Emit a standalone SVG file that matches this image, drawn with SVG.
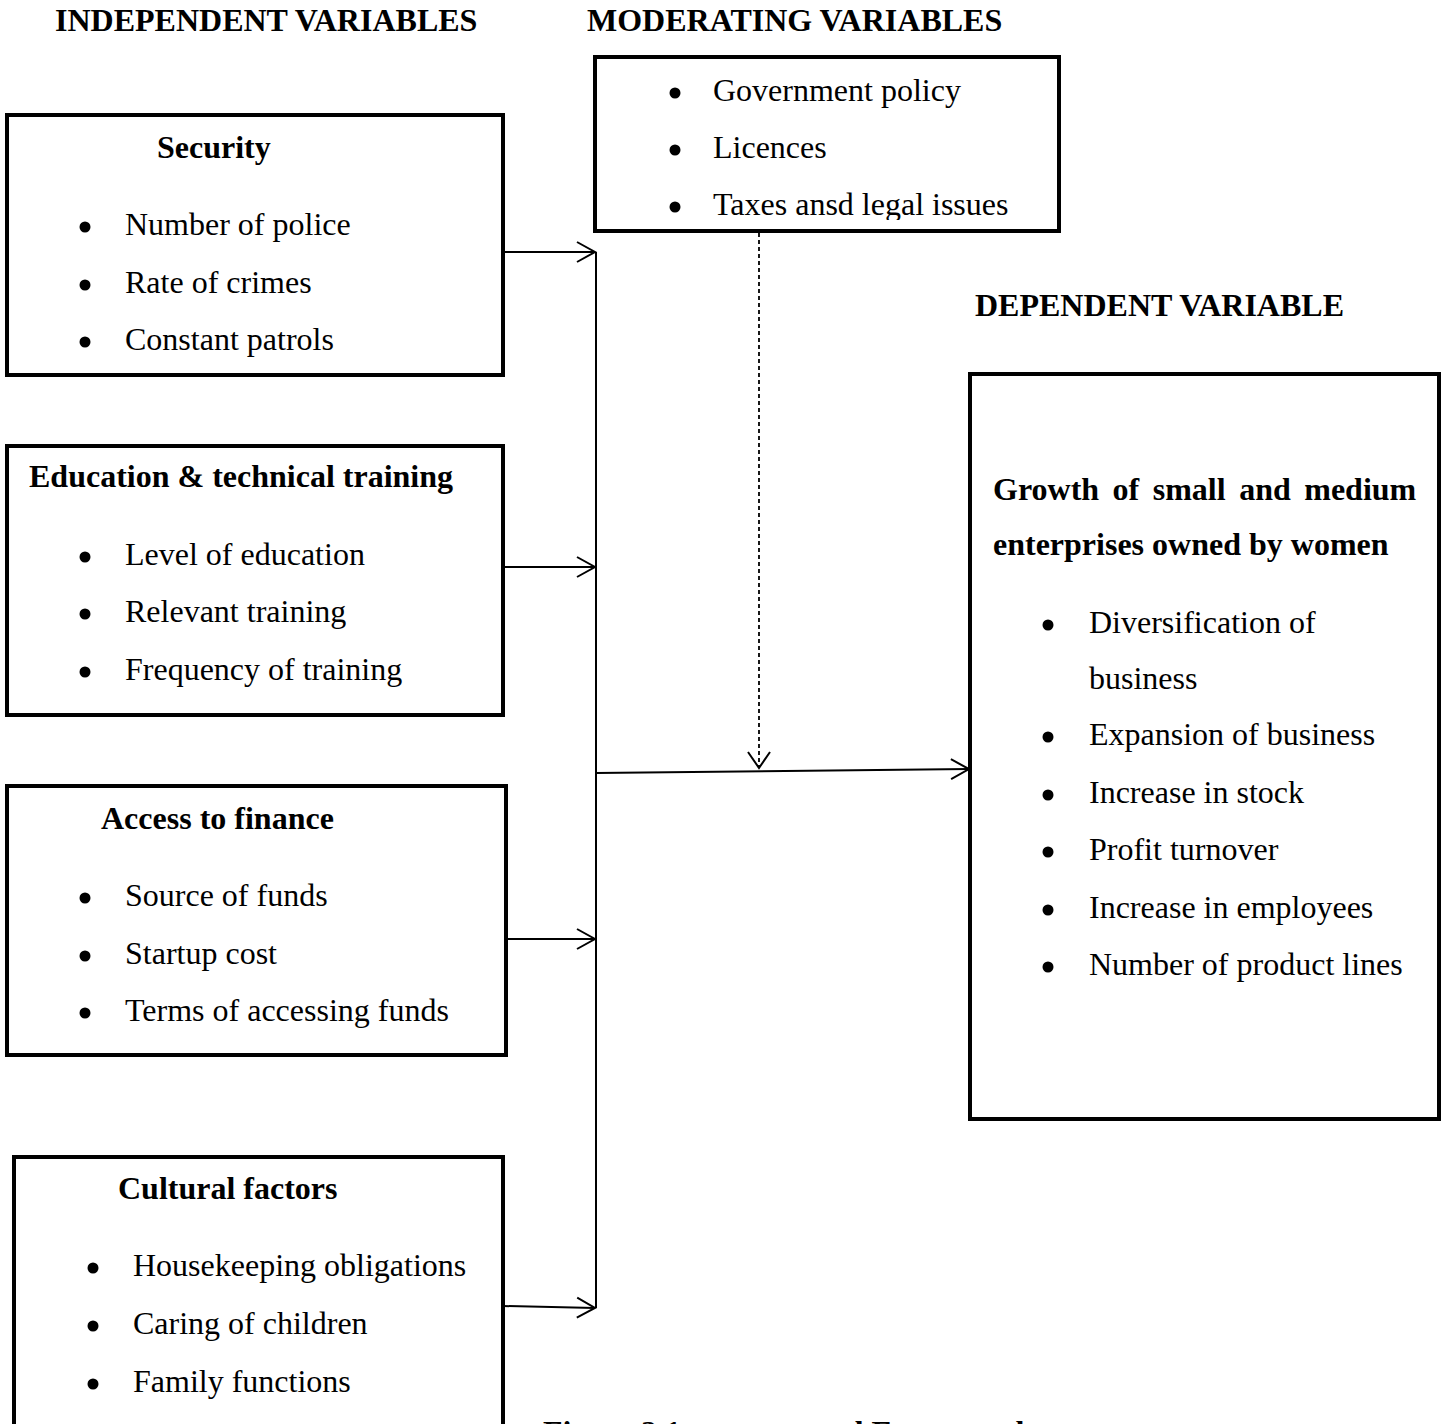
<svg xmlns="http://www.w3.org/2000/svg" width="1445" height="1424" viewBox="0 0 1445 1424">
<style>
text{font-family:"Liberation Serif","Times New Roman",serif;font-size:32px;fill:#000}
.b{font-weight:bold}
.box{fill:#fff;stroke:#000;stroke-width:4}
.dot{fill:#000}
.con{fill:none;stroke:#000;stroke-width:2}
.dash{stroke-dasharray:4 3;stroke-width:1.8}
</style>
<defs>
<marker id="arr" markerUnits="userSpaceOnUse" markerWidth="40" markerHeight="40" viewBox="-20 -20 40 40" refX="0" refY="0" orient="auto">
<path d="M-18,-10 L0,0 L-18,10" fill="none" stroke="#000" stroke-width="2" stroke-dasharray="none"/>
</marker>
<marker id="arrd" markerUnits="userSpaceOnUse" markerWidth="40" markerHeight="40" viewBox="-20 -20 40 40" refX="0" refY="0" orient="auto">
<path d="M-16,-11 L0,0 L-16,11" fill="none" stroke="#000" stroke-width="2" stroke-dasharray="none"/>
</marker>
<clipPath id="modclip"><rect x="597" y="59" width="460" height="161"/></clipPath>
</defs>
<rect width="1445" height="1424" fill="#fff"/>

<g id="headers">
<text class="b" x="55" y="31">INDEPENDENT VARIABLES</text>
<text class="b" x="587" y="31">MODERATING VARIABLES</text>
<text class="b" x="975" y="316">DEPENDENT VARIABLE</text>
</g>

<g id="connectors">
<line class="con" x1="596" y1="252" x2="596" y2="1308"/>
<line class="con" x1="503" y1="252" x2="595" y2="252" marker-end="url(#arr)"/>
<line class="con" x1="503" y1="567" x2="595" y2="567" marker-end="url(#arr)"/>
<line class="con" x1="506" y1="939" x2="595" y2="939" marker-end="url(#arr)"/>
<line class="con" x1="503" y1="1306" x2="595" y2="1308" marker-end="url(#arr)"/>
<line class="con" x1="596" y1="773" x2="969" y2="769" marker-end="url(#arr)"/>
<line class="con dash" x1="759" y1="233" x2="759" y2="768" marker-end="url(#arrd)"/>
</g>

<g id="security">
<rect class="box" x="7" y="115" width="496" height="260"/>
<text class="b" x="157" y="158">Security</text>
<circle class="dot" cx="85" cy="227" r="5.5"/>
<circle class="dot" cx="85" cy="285" r="5.5"/>
<circle class="dot" cx="85" cy="342" r="5.5"/>
<text x="125" y="235">Number of police</text>
<text x="125" y="293">Rate of crimes</text>
<text x="125" y="350">Constant patrols</text>
</g>

<g id="education">
<rect class="box" x="7" y="446" width="496" height="269"/>
<text class="b" x="29" y="487">Education &amp; technical training</text>
<circle class="dot" cx="85" cy="557" r="5.5"/>
<circle class="dot" cx="85" cy="614" r="5.5"/>
<circle class="dot" cx="85" cy="672" r="5.5"/>
<text x="125" y="565">Level of education</text>
<text x="125" y="622">Relevant training</text>
<text x="125" y="680">Frequency of training</text>
</g>

<g id="finance">
<rect class="box" x="7" y="786" width="499" height="269"/>
<text class="b" x="101" y="829">Access to finance</text>
<circle class="dot" cx="85" cy="898" r="5.5"/>
<circle class="dot" cx="85" cy="956" r="5.5"/>
<circle class="dot" cx="85" cy="1013" r="5.5"/>
<text x="125" y="906">Source of funds</text>
<text x="125" y="964">Startup cost</text>
<text x="125" y="1021">Terms of accessing funds</text>
</g>

<g id="cultural">
<rect class="box" x="14" y="1157" width="489" height="290"/>
<text class="b" x="118" y="1199">Cultural factors</text>
<circle class="dot" cx="93" cy="1268" r="5.5"/>
<circle class="dot" cx="93" cy="1326" r="5.5"/>
<circle class="dot" cx="93" cy="1384" r="5.5"/>
<text x="133" y="1276">Housekeeping obligations</text>
<text x="133" y="1334">Caring of children</text>
<text x="133" y="1392">Family functions</text>
</g>

<g id="moderating">
<rect class="box" x="595" y="57" width="464" height="174"/>
<g clip-path="url(#modclip)">
<circle class="dot" cx="675" cy="93" r="5.5"/>
<circle class="dot" cx="675" cy="150" r="5.5"/>
<circle class="dot" cx="675" cy="207" r="5.5"/>
<text x="713" y="101">Government policy</text>
<text x="713" y="158">Licences</text>
<text x="713" y="215">Taxes ansd legal issues</text>
</g>
</g>

<g id="dependent">
<rect class="box" x="970" y="374" width="469" height="745"/>
<text class="b" x="993" y="500" word-spacing="5.5">Growth of small and medium</text>
<text class="b" x="993" y="555">enterprises owned by women</text>
<circle class="dot" cx="1048" cy="625" r="5.5"/>
<circle class="dot" cx="1048" cy="737" r="5.5"/>
<circle class="dot" cx="1048" cy="795" r="5.5"/>
<circle class="dot" cx="1048" cy="852" r="5.5"/>
<circle class="dot" cx="1048" cy="910" r="5.5"/>
<circle class="dot" cx="1048" cy="967" r="5.5"/>
<text x="1089" y="633">Diversification of</text>
<text x="1089" y="689">business</text>
<text x="1089" y="745">Expansion of business</text>
<text x="1089" y="803">Increase in stock</text>
<text x="1089" y="860">Profit turnover</text>
<text x="1089" y="918">Increase in employees</text>
<text x="1089" y="975">Number of product lines</text>
</g>

<g id="caption">
<text class="b" x="543" y="1443">Figure 2.1</text>
<text class="b" x="716" y="1443">conceptual Framework</text>
</g>
</svg>
